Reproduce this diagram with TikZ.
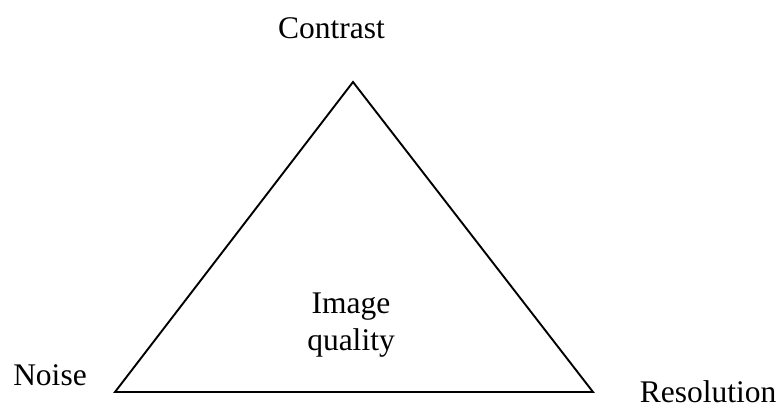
\documentclass[tikz,border=0pt]{standalone}
\usepackage{fontspec}
\setmainfont{Liberation Serif}
\begin{document}
\begin{tikzpicture}[x=1pt,y=-1pt,
  label text/.style={inner sep=0pt,anchor=base,font=\fontsize{31.5}{36}\selectfont},
  edge/.style={line width=1.9pt,line join=miter}]
\useasboundingbox (0,0) rectangle (779,410);
% corners of the triangle
\coordinate (top) at (353,82);
\coordinate (left) at (115,392);
\coordinate (right) at (593,392);
\draw[edge] (top) -- (left) -- (right) -- cycle;
% corner labels
\node[label text] (contrast) at (331.5,38) {Contrast};
\node[label text] (noise) at (50,385) {Noise};
\node[label text] (resolution) at (708,402) {Resolution};
% centre label
\node[label text] (image) at (351,313) {Image};
\node[label text] (quality) at (351,350) {quality};
\end{tikzpicture}
\end{document}
